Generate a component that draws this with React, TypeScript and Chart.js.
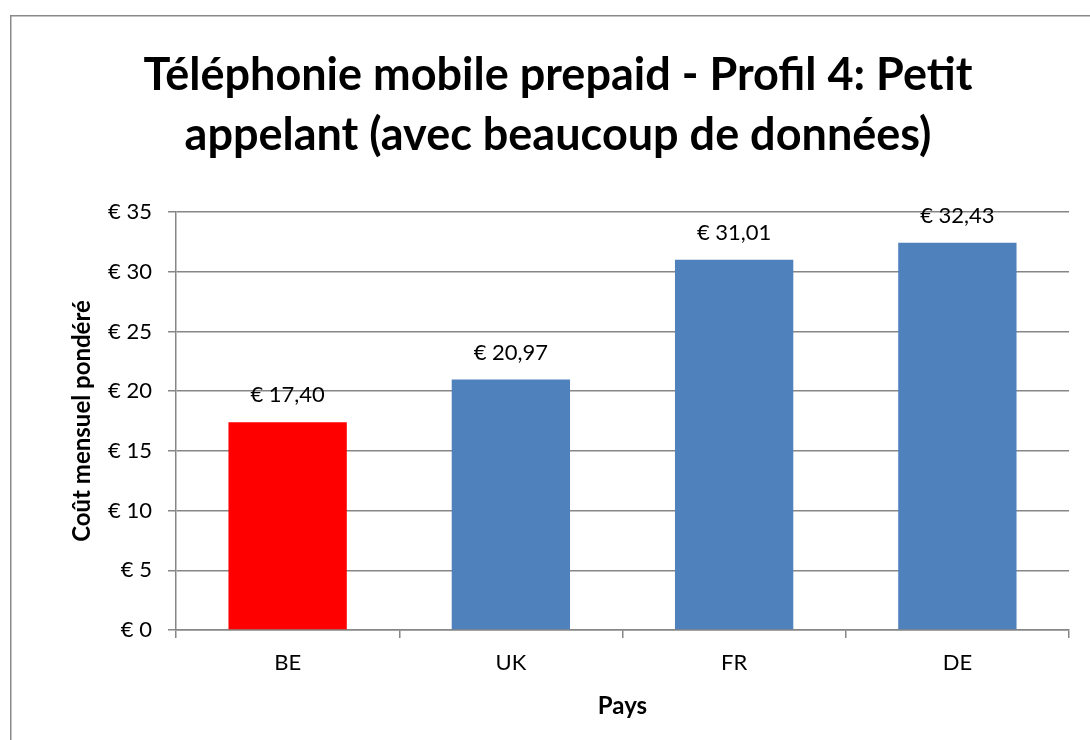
import React, { useEffect, useRef } from "react";
import { Chart, registerables } from "chart.js";

Chart.register(...registerables);

const TITLE_LINES = ["Téléphonie mobile prepaid - Profil 4: Petit", "appelant (avec beaucoup de données)"];
const CATEGORIES = ["BE", "UK", "FR", "DE"];
const VALUES = [17.4, 20.97, 31.01, 32.43];
const BAR_COLORS = ["#FF0000", "#4F81BD", "#4F81BD", "#4F81BD"];
const Y_TICKS = [0, 5, 10, 15, 20, 25, 30, 35];
const Y_TITLE = "Coût mensuel pondéré";
const X_TITLE = "Pays";

const FONT = "Lato, 'Open Sans', sans-serif";
const GRID = "#868686";

const fmt = (v: number) => "€ " + v.toFixed(2).replace(".", ",");

const framePlugin = {
  id: "frame",
  beforeDraw(chart: any) {
    const ctx = chart.ctx;
    ctx.save();
    ctx.fillStyle = "#ffffff";
    ctx.fillRect(0, 0, chart.width, chart.height);
    ctx.strokeStyle = "#8a8a8a";
    ctx.lineWidth = 1.5;
    ctx.beginPath();
    ctx.moveTo(10.75, chart.height + 2);
    ctx.lineTo(10.75, 15.75);
    ctx.lineTo(chart.width + 2, 15.75);
    ctx.stroke();
    ctx.restore();
  },
};

const titlePlugin = {
  id: "mainTitle",
  afterDraw(chart: any) {
    const ctx = chart.ctx;
    ctx.save();
    ctx.font = `bold 45px ${FONT}`;
    ctx.fillStyle = "#000000";
    ctx.textAlign = "center";
    ctx.textBaseline = "middle";
    TITLE_LINES.forEach((line, i) => {
      ctx.fillText(line, 558, 75 + i * 60);
    });
    ctx.restore();
  },
};

const labelPlugin = {
  id: "barLabels",
  afterDatasetsDraw(chart: any) {
    const ctx = chart.ctx;
    const meta = chart.getDatasetMeta(0);
    ctx.save();
    ctx.font = `22px ${FONT}`;
    ctx.fillStyle = "#000000";
    ctx.textAlign = "center";
    ctx.textBaseline = "middle";
    meta.data.forEach((bar: any, i: number) => {
      ctx.fillText(fmt(VALUES[i]), bar.x, bar.y - 27);
    });
    ctx.restore();
  },
};

export default function App() {
  const ref = useRef<HTMLCanvasElement | null>(null);
  useEffect(() => {
    if (!ref.current) return;
    const chart = new Chart(ref.current, {
      type: "bar",
      data: {
        labels: CATEGORIES,
        datasets: [
          {
            data: VALUES,
            backgroundColor: BAR_COLORS,
            borderWidth: 0,
            barPercentage: 0.53,
            categoryPercentage: 1,
          },
        ],
      },
      options: {
        animation: false,
        responsive: false,
        maintainAspectRatio: false,
        layout: { padding: { left: 10, right: 21, top: 212, bottom: 0 } },
        plugins: {
          legend: { display: false },
          tooltip: { enabled: false },
          title: { display: false },
        },
        scales: {
          x: {
            afterFit(scale: any) {
              scale.height = 110;
            },
            grid: {
              offset: true,
              drawOnChartArea: false,
              drawTicks: true,
              tickLength: 8,
              color: GRID,
              lineWidth: 1.5,
            },
            border: { color: GRID, width: 1.5 },
            ticks: {
              color: "#000000",
              font: { family: FONT, size: 22 },
              padding: 12,
            },
            title: {
              display: true,
              text: X_TITLE,
              color: "#000000",
              font: { family: FONT, size: 24, weight: "bold", lineHeight: 1.2 },
              padding: { top: 0, bottom: 19.6 },
            },
          },
          y: {
            min: 0,
            max: 35,
            afterFit(scale: any) {
              scale.width = 166;
            },
            afterBuildTicks(scale: any) {
              scale.ticks = Y_TICKS.map((v) => ({ value: v }));
            },
            grid: {
              color: GRID,
              lineWidth: 1.5,
              drawTicks: true,
              tickLength: 8,
            },
            border: { color: GRID, width: 1.5 },
            ticks: {
              color: "#000000",
              font: { family: FONT, size: 22 },
              padding: 16,
              callback: (v: any) => "€ " + v,
            },
            title: {
              display: true,
              text: Y_TITLE,
              color: "#000000",
              font: { family: FONT, size: 24, weight: "bold", lineHeight: 1.2 },
              padding: { top: 57.6, bottom: 0 },
            },
          },
        },
      },
      plugins: [framePlugin, labelPlugin, titlePlugin],
    });
    return () => chart.destroy();
  }, []);
  return (
    <div style={{ position: "fixed", left: 0, top: 0, width: 1090, height: 740, background: "#fff" }}>
      <canvas ref={ref} width={1090} height={740} style={{ display: "block", width: 1090, height: 740 }} />
    </div>
  );
}
